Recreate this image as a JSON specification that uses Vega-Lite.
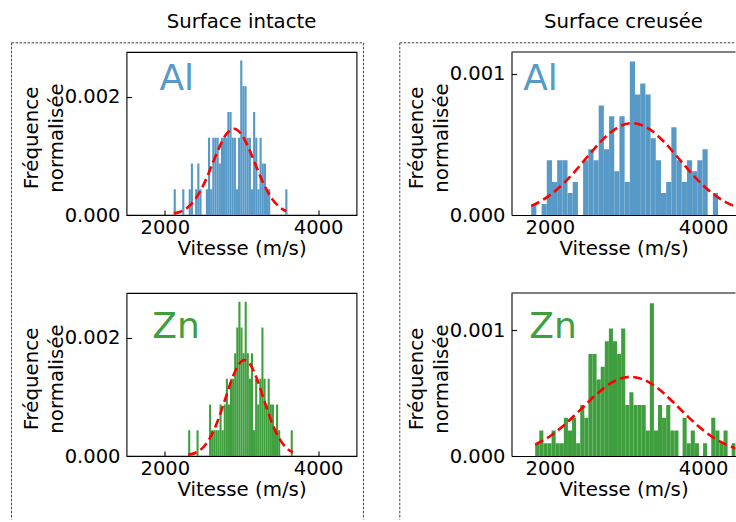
{
  "$schema": "https://vega.github.io/schema/vega-lite/v6.json",
  "padding": {"left": 9.5, "top": 11, "right": 0, "bottom": 0},
  "background": "white",
  "config": {
    "font": "DejaVu Sans",
    "view": {"stroke": "#000", "strokeWidth": 1.1},
    "axis": {
      "domain": false, "grid": false, "domainColor": "#000", "domainWidth": 1.1,
      "tickSize": -5, "tickColor": "#000", "tickWidth": 1.1,
      "labelFont": "DejaVu Sans", "labelFontSize": 19.5, "labelColor": "#000",
      "titleFont": "DejaVu Sans", "titleFontSize": 19.8, "titleFontWeight": "normal", "titleColor": "#000"
    },
    "axisX": {"labelPadding": 8.5, "titlePadding": 1.5},
    "axisY": {"labelPadding": 11.5, "titlePadding": -2.5, "titleLineHeight": 25.6, "titleY": 85.5},
    "title": {"font": "DejaVu Sans", "fontSize": 19.7, "fontWeight": "normal", "color": "#000", "anchor": "middle", "frame": "group", "baseline": "alphabetic", "offset": 11}
  },
  "datasets": {
    "al_intacte": [
      {"v0":2115,"v1":2143,"d":0.000436},{"v0":2227,"v1":2255,"d":0.000436},{"v0":2311,"v1":2339,"d":0.000436},{"v0":2339,"v1":2367,"d":0.000872},
      {"v0":2395,"v1":2423,"d":0.000436},{"v0":2423,"v1":2451,"d":0.000872},{"v0":2451,"v1":2479,"d":0.000436},{"v0":2535,"v1":2563,"d":0.000436},
      {"v0":2563,"v1":2591,"d":0.001308},{"v0":2591,"v1":2619,"d":0.000436},{"v0":2619,"v1":2647,"d":0.001308},{"v0":2647,"v1":2675,"d":0.001308},
      {"v0":2675,"v1":2703,"d":0.001308},{"v0":2703,"v1":2731,"d":0.000872},{"v0":2731,"v1":2759,"d":0.001308},{"v0":2759,"v1":2787,"d":0.001308},
      {"v0":2787,"v1":2815,"d":0.001308},{"v0":2815,"v1":2843,"d":0.001744},{"v0":2843,"v1":2871,"d":0.001744},{"v0":2871,"v1":2899,"d":0.001308},
      {"v0":2899,"v1":2927,"d":0.001308},{"v0":2927,"v1":2955,"d":0.000436},{"v0":2955,"v1":2983,"d":0.001308},{"v0":2983,"v1":3011,"d":0.002616},
      {"v0":3011,"v1":3039,"d":0.00218},{"v0":3039,"v1":3067,"d":0.00218},{"v0":3067,"v1":3095,"d":0.001308},{"v0":3095,"v1":3123,"d":0.001308},
      {"v0":3123,"v1":3151,"d":0.000436},{"v0":3151,"v1":3179,"d":0.001744},{"v0":3179,"v1":3207,"d":0.001308},{"v0":3207,"v1":3235,"d":0.000436},
      {"v0":3235,"v1":3263,"d":0.001308},{"v0":3263,"v1":3291,"d":0.000872},{"v0":3291,"v1":3319,"d":0.000872},{"v0":3319,"v1":3347,"d":0.000436},
      {"v0":3347,"v1":3375,"d":0.000436},{"v0":3571,"v1":3599,"d":0.000436}
    ],
    "al_intacte_fit": [
      {"v0":2117,"d":0.0000239},{"v0":2200,"d":0.0000545},{"v0":2300,"d":0.0001304},{"v0":2400,"d":0.0002727},{"v0":2500,"d":0.000499},
      {"v0":2600,"d":0.000798},{"v0":2700,"d":0.001116},{"v0":2800,"d":0.001365},{"v0":2900,"d":0.00146},{"v0":3000,"d":0.001365},
      {"v0":3100,"d":0.001116},{"v0":3200,"d":0.000798},{"v0":3300,"d":0.000499},{"v0":3400,"d":0.0002727},{"v0":3500,"d":0.0001304},{"v0":3583,"d":0.0000638}
    ],
    "zn_intacte": [
      {"v0":2304.0,"v1":2331.3,"d":0.000435},{"v0":2413.2,"v1":2440.5,"d":0.000435},{"v0":2577.0,"v1":2604.3,"d":0.00087},{"v0":2604.3,"v1":2631.6,"d":0.000435},
      {"v0":2631.6,"v1":2658.9,"d":0.000435},{"v0":2658.9,"v1":2686.2,"d":0.000435},{"v0":2686.2,"v1":2713.5,"d":0.000435},{"v0":2713.5,"v1":2740.8,"d":0.00087},
      {"v0":2740.8,"v1":2768.1,"d":0.000435},{"v0":2768.1,"v1":2795.4,"d":0.00087},{"v0":2795.4,"v1":2822.7,"d":0.001305},{"v0":2822.7,"v1":2850.0,"d":0.00087},
      {"v0":2850.0,"v1":2877.3,"d":0.001305},{"v0":2877.3,"v1":2904.6,"d":0.001305},{"v0":2904.6,"v1":2931.9,"d":0.00174},{"v0":2931.9,"v1":2959.2,"d":0.002175},
      {"v0":2959.2,"v1":2986.5,"d":0.00261},{"v0":2986.5,"v1":3013.8,"d":0.002175},{"v0":3013.8,"v1":3041.1,"d":0.00174},{"v0":3041.1,"v1":3068.4,"d":0.00261},
      {"v0":3068.4,"v1":3095.7,"d":0.00174},{"v0":3095.7,"v1":3123.0,"d":0.001305},{"v0":3123.0,"v1":3150.3,"d":0.00174},{"v0":3150.3,"v1":3177.6,"d":0.000435},
      {"v0":3177.6,"v1":3204.9,"d":0.001305},{"v0":3204.9,"v1":3232.2,"d":0.00087},{"v0":3232.2,"v1":3259.5,"d":0.001305},{"v0":3259.5,"v1":3286.8,"d":0.002175},
      {"v0":3286.8,"v1":3314.1,"d":0.001305},{"v0":3314.1,"v1":3341.4,"d":0.00087},{"v0":3341.4,"v1":3368.7,"d":0.001305},{"v0":3368.7,"v1":3396.0,"d":0.00087},
      {"v0":3396.0,"v1":3423.3,"d":0.00087},{"v0":3423.3,"v1":3450.6,"d":0.000435},{"v0":3450.6,"v1":3477.9,"d":0.00087},{"v0":3477.9,"v1":3505.2,"d":0.000435},
      {"v0":3641.7,"v1":3669.0,"d":0.000435}
    ],
    "zn_intacte_fit": [
      {"v0":2304,"d":0.0000187},{"v0":2400,"d":0.0000556},{"v0":2500,"d":0.0001472},{"v0":2600,"d":0.00033},{"v0":2700,"d":0.000628},
      {"v0":2800,"d":0.001012},{"v0":2900,"d":0.001384},{"v0":3000,"d":0.001603},{"v0":3039,"d":0.001623},{"v0":3100,"d":0.001574},
      {"v0":3200,"d":0.00131},{"v0":3300,"d":0.000924},{"v0":3400,"d":0.000553},{"v0":3500,"d":0.00028},{"v0":3600,"d":0.0001205},{"v0":3670,"d":0.0000605}
    ],
    "al_creusee": [
      {"v0":1757.0,"v1":1824.7,"d":0.0000776},{"v0":1892.4,"v1":1960.1,"d":0.0000776},{"v0":1960.1,"v1":2027.8,"d":0.000388},{"v0":2027.8,"v1":2095.5,"d":0.0002328},
      {"v0":2095.5,"v1":2163.2,"d":0.000388},{"v0":2163.2,"v1":2230.9,"d":0.000388},{"v0":2230.9,"v1":2298.6,"d":0.0001552},{"v0":2298.6,"v1":2366.3,"d":0.0002328},
      {"v0":2434.0,"v1":2501.7,"d":0.000388},{"v0":2501.7,"v1":2569.4,"d":0.0004656},{"v0":2569.4,"v1":2637.1,"d":0.000388},{"v0":2637.1,"v1":2704.8,"d":0.000776},
      {"v0":2704.8,"v1":2772.5,"d":0.0004656},{"v0":2772.5,"v1":2840.2,"d":0.0006984},{"v0":2840.2,"v1":2907.9,"d":0.0003104},{"v0":2907.9,"v1":2975.6,"d":0.0006984},
      {"v0":2975.6,"v1":3043.3,"d":0.0002328},{"v0":3043.3,"v1":3111.0,"d":0.0010864},{"v0":3111.0,"v1":3178.7,"d":0.0008536},{"v0":3178.7,"v1":3246.4,"d":0.0009312},
      {"v0":3246.4,"v1":3314.1,"d":0.0008536},{"v0":3314.1,"v1":3381.8,"d":0.0005432},{"v0":3381.8,"v1":3449.5,"d":0.000388},{"v0":3449.5,"v1":3517.2,"d":0.0001552},
      {"v0":3517.2,"v1":3584.9,"d":0.0002328},{"v0":3584.9,"v1":3652.6,"d":0.0006208},{"v0":3652.6,"v1":3720.3,"d":0.000388},{"v0":3720.3,"v1":3788.0,"d":0.0002328},
      {"v0":3788.0,"v1":3855.7,"d":0.000388},{"v0":3855.7,"v1":3923.4,"d":0.0003104},{"v0":3923.4,"v1":3991.1,"d":0.000388},{"v0":3991.1,"v1":4058.8,"d":0.0004656},
      {"v0":4126.5,"v1":4194.2,"d":0.0001552}
    ],
    "al_creusee_fit": [
      {"v0":1757,"d":0.0000647},{"v0":1900,"d":0.0001039},{"v0":2100,"d":0.0001837},{"v0":2300,"d":0.0002924},{"v0":2500,"d":0.0004186},
      {"v0":2700,"d":0.000539},{"v0":2900,"d":0.000624},{"v0":3076,"d":0.00065},{"v0":3300,"d":0.000608},{"v0":3500,"d":0.000512},
      {"v0":3700,"d":0.000388},{"v0":3900,"d":0.000264},{"v0":4100,"d":0.0001618},{"v0":4300,"d":0.0000892},{"v0":4421,"d":0.000059}
    ],
    "zn_creusee": [
      {"v0":1809.0,"v1":1862.4,"d":0.0001015},{"v0":1862.4,"v1":1915.8,"d":0.000203},{"v0":1915.8,"v1":1969.2,"d":0.0001015},{"v0":1969.2,"v1":2022.6,"d":0.0001015},
      {"v0":2022.6,"v1":2076.0,"d":0.000203},{"v0":2076.0,"v1":2129.4,"d":0.0001015},{"v0":2129.4,"v1":2182.8,"d":0.0001015},{"v0":2182.8,"v1":2236.2,"d":0.0003045},
      {"v0":2236.2,"v1":2289.6,"d":0.000203},{"v0":2289.6,"v1":2343.0,"d":0.0003045},{"v0":2343.0,"v1":2396.4,"d":0.0001015},{"v0":2396.4,"v1":2449.8,"d":0.000406},
      {"v0":2449.8,"v1":2503.2,"d":0.0003045},{"v0":2503.2,"v1":2556.6,"d":0.000812},{"v0":2556.6,"v1":2610.0,"d":0.000812},{"v0":2610.0,"v1":2663.4,"d":0.000609},
      {"v0":2663.4,"v1":2716.8,"d":0.0007105},{"v0":2716.8,"v1":2770.2,"d":0.0009135},{"v0":2770.2,"v1":2823.6,"d":0.001015},{"v0":2823.6,"v1":2877.0,"d":0.0009135},
      {"v0":2877.0,"v1":2930.4,"d":0.000812},{"v0":2930.4,"v1":2983.8,"d":0.001015},{"v0":2983.8,"v1":3037.2,"d":0.000406},{"v0":3037.2,"v1":3090.6,"d":0.0005075},
      {"v0":3090.6,"v1":3144.0,"d":0.000406},{"v0":3144.0,"v1":3197.4,"d":0.000406},{"v0":3197.4,"v1":3250.8,"d":0.000406},{"v0":3250.8,"v1":3304.2,"d":0.000203},
      {"v0":3304.2,"v1":3357.6,"d":0.001218},{"v0":3357.6,"v1":3411.0,"d":0.000203},{"v0":3411.0,"v1":3464.4,"d":0.000406},{"v0":3464.4,"v1":3517.8,"d":0.0003045},
      {"v0":3517.8,"v1":3571.2,"d":0.000406},{"v0":3571.2,"v1":3624.6,"d":0.000203},{"v0":3624.6,"v1":3678.0,"d":0.000203},{"v0":3731.4,"v1":3784.8,"d":0.0003045},
      {"v0":3784.8,"v1":3838.2,"d":0.0001015},{"v0":3838.2,"v1":3891.6,"d":0.000203},{"v0":3891.6,"v1":3945.0,"d":0.0001015},{"v0":3998.4,"v1":4051.8,"d":0.0001015},
      {"v0":4105.2,"v1":4158.6,"d":0.0003045},{"v0":4158.6,"v1":4212.0,"d":0.000203},{"v0":4212.0,"v1":4265.4,"d":0.0001015},{"v0":4265.4,"v1":4318.8,"d":0.000203},
      {"v0":4372.2,"v1":4425.6,"d":0.0001015}
    ],
    "zn_creusee_fit": [
      {"v0":1809,"d":0.0000907},{"v0":2000,"d":0.000157},{"v0":2200,"d":0.0002533},{"v0":2400,"d":0.0003694},{"v0":2600,"d":0.0004875},
      {"v0":2800,"d":0.000582},{"v0":3054,"d":0.000631},{"v0":3200,"d":0.0006144},{"v0":3400,"d":0.0005432},{"v0":3600,"d":0.0004344},
      {"v0":3800,"d":0.0003144},{"v0":4000,"d":0.0002059},{"v0":4200,"d":0.0001219},{"v0":4421,"d":0.0000608}
    ]
  },
  "bounds": "flush",
  "columns": 2,
  "spacing": {"row": 78, "column": 155},
  "concat": [
    {
      "width": 230, "height": 163,
      "title": {"text": "Surface intacte"},
      "layer": [
        {"data": {"name": "al_intacte"}, "mark": {"type": "rect", "color": "#5799c7", "clip": true},
         "encoding": {
           "x": {"field": "v0", "type": "quantitative", "scale": {"domain": [1500, 4500], "nice": false, "zero": false}, "axis": {"title": "Vitesse (m/s)", "values": [2000, 4000], "format": "d"}},
           "x2": {"field": "v1"},
           "y": {"field": "d", "type": "quantitative", "scale": {"domain": [0, 0.00276], "nice": false}, "axis": {"title": ["Fréquence", "normalisée"], "values": [0, 0.002], "format": ".3f"}},
           "y2": {"datum": 0}
         }},
        {"data": {"name": "al_intacte_fit"}, "mark": {"type": "line", "color": "#ff0000", "strokeWidth": 2.6, "strokeDash": [9, 4.5], "interpolate": "monotone", "clip": true},
         "encoding": {"x": {"field": "v0", "type": "quantitative"}, "y": {"field": "d", "type": "quantitative"}}},
        {"data": {"values": [{"el": "Al"}]}, "mark": {"type": "text", "fontSize": 36, "color": "#5799c7", "align": "left", "baseline": "alphabetic"},
         "encoding": {"x": {"datum": 1930}, "y": {"datum": 0.002125}, "text": {"field": "el"}}},
        {"data": {"values": [{}]}, "mark": {"type": "rule", "color": "#444", "strokeWidth": 1, "strokeDash": [2.5, 1.5], "clip": false},
         "encoding": {"x": {"datum": 0}, "x2": {"datum": 4591}, "y": {"datum": 0.0029158}}},
        {"data": {"values": [{}]}, "mark": {"type": "rule", "color": "#444", "strokeWidth": 1, "strokeDash": [2.5, 1.5], "clip": false},
         "encoding": {"x": {"datum": 0}, "y": {"datum": 0.0029158}, "y2": {"datum": -0.005156}}},
        {"data": {"values": [{}]}, "mark": {"type": "rule", "color": "#444", "strokeWidth": 1, "strokeDash": [2.5, 1.5], "clip": false},
         "encoding": {"x": {"datum": 4591}, "y": {"datum": 0.0029158}, "y2": {"datum": -0.005156}}}
      ]
    },
    {
      "width": 224, "height": 163,
      "view": {"stroke": null},
      "title": {"text": "Surface creusée"},
      "layer": [
        {"data": {"name": "al_creusee"}, "mark": {"type": "rect", "color": "#5799c7", "clip": true},
         "encoding": {
           "x": {"field": "v0", "type": "quantitative", "scale": {"domain": [1500, 4421.7], "nice": false, "zero": false}, "axis": {"title": "Vitesse (m/s)", "values": [2000, 4000], "format": "d", "domain": true}},
           "x2": {"field": "v1"},
           "y": {"field": "d", "type": "quantitative", "scale": {"domain": [0, 0.001154], "nice": false}, "axis": {"title": ["Fréquence", "normalisée"], "values": [0, 0.001], "format": ".3f", "domain": true}},
           "y2": {"datum": 0}
         }},
        {"data": {"name": "al_creusee_fit"}, "mark": {"type": "line", "color": "#ff0000", "strokeWidth": 2.6, "strokeDash": [9, 4.5], "interpolate": "monotone", "clip": true},
         "encoding": {"x": {"field": "v0", "type": "quantitative"}, "y": {"field": "d", "type": "quantitative"}}},
        {"data": {"values": [{"el": "Al"}]}, "mark": {"type": "text", "fontSize": 36, "color": "#5799c7", "align": "left", "baseline": "alphabetic"},
         "encoding": {"x": {"datum": 1652.6}, "y": {"datum": 0.0008885}, "text": {"field": "el"}}},
        {"data": {"values": [{}]}, "mark": {"type": "rule", "color": "#000", "strokeWidth": 1.1, "clip": false},
         "encoding": {"x": {"datum": 1500}, "x2": {"datum": 4421.7}, "y": {"datum": 0.001154}}},
        {"data": {"values": [{}]}, "mark": {"type": "rule", "color": "#444", "strokeWidth": 1, "strokeDash": [2.5, 1.5], "clip": false},
         "encoding": {"x": {"datum": 43}, "x2": {"datum": 4421}, "y": {"datum": 0.0012191}}},
        {"data": {"values": [{}]}, "mark": {"type": "rule", "color": "#444", "strokeWidth": 1, "strokeDash": [2.5, 1.5], "clip": false},
         "encoding": {"x": {"datum": 43}, "y": {"datum": 0.0012191}, "y2": {"datum": -0.0021558}}}
      ]
    },
    {
      "width": 230, "height": 163,
      "layer": [
        {"data": {"name": "zn_intacte"}, "mark": {"type": "rect", "color": "#3f9f3f", "clip": true},
         "encoding": {
           "x": {"field": "v0", "type": "quantitative", "scale": {"domain": [1500, 4500], "nice": false, "zero": false}, "axis": {"title": "Vitesse (m/s)", "values": [2000, 4000], "format": "d"}},
           "x2": {"field": "v1"},
           "y": {"field": "d", "type": "quantitative", "scale": {"domain": [0, 0.002758], "nice": false}, "axis": {"title": ["Fréquence", "normalisée"], "values": [0, 0.002], "format": ".3f"}},
           "y2": {"datum": 0}
         }},
        {"data": {"name": "zn_intacte_fit"}, "mark": {"type": "line", "color": "#ff0000", "strokeWidth": 2.6, "strokeDash": [9, 4.5], "interpolate": "monotone", "clip": true},
         "encoding": {"x": {"field": "v0", "type": "quantitative"}, "y": {"field": "d", "type": "quantitative"}}},
        {"data": {"values": [{"el": "Zn"}]}, "mark": {"type": "text", "fontSize": 36, "color": "#3f9f3f", "align": "left", "baseline": "alphabetic"},
         "encoding": {"x": {"datum": 1836.5}, "y": {"datum": 0.002}, "text": {"field": "el"}}}
      ]
    },
    {
      "width": 224, "height": 163,
      "view": {"stroke": null},
      "layer": [
        {"data": {"name": "zn_creusee"}, "mark": {"type": "rect", "color": "#3f9f3f", "clip": true},
         "encoding": {
           "x": {"field": "v0", "type": "quantitative", "scale": {"domain": [1500, 4421.7], "nice": false, "zero": false}, "axis": {"title": "Vitesse (m/s)", "values": [2000, 4000], "format": "d", "domain": true}},
           "x2": {"field": "v1"},
           "y": {"field": "d", "type": "quantitative", "scale": {"domain": [0, 0.0012988], "nice": false}, "axis": {"title": ["Fréquence", "normalisée"], "values": [0, 0.001], "format": ".3f", "domain": true}},
           "y2": {"datum": 0}
         }},
        {"data": {"name": "zn_creusee_fit"}, "mark": {"type": "line", "color": "#ff0000", "strokeWidth": 2.6, "strokeDash": [9, 4.5], "interpolate": "monotone", "clip": true},
         "encoding": {"x": {"field": "v0", "type": "quantitative"}, "y": {"field": "d", "type": "quantitative"}}},
        {"data": {"values": [{"el": "Zn"}]}, "mark": {"type": "text", "fontSize": 36, "color": "#3f9f3f", "align": "left", "baseline": "alphabetic"},
         "encoding": {"x": {"datum": 1732}, "y": {"datum": 0.000942}, "text": {"field": "el"}}},
        {"data": {"values": [{}]}, "mark": {"type": "rule", "color": "#000", "strokeWidth": 1.1, "clip": false},
         "encoding": {"x": {"datum": 1500}, "x2": {"datum": 4421.7}, "y": {"datum": 0.0012988}}}
      ]
    }
  ]
}
